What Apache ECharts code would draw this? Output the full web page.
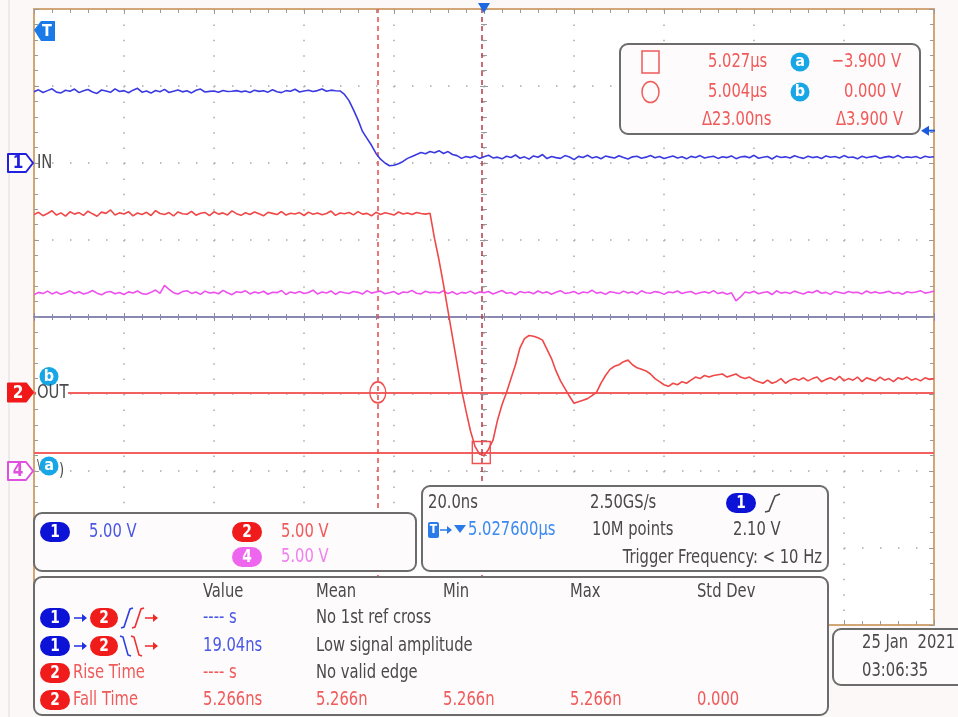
<!DOCTYPE html>
<html>
<head>
<meta charset="utf-8">
<script src="https://cdn.jsdelivr.net/npm/echarts@6/dist/echarts.min.js"></script>
<style>
  html, body { margin: 0; padding: 0; background: #fcf8f8; }
  #chart { width: 958px; height: 717px; }
</style>
</head>
<body>
<div id="chart"></div>
<script>
// scope capture, 20 ns/div, 10 div wide -> samples read every 1 ns around the trigger
const T_START = -100, T_STEP = 1;

// CH1 "IN" (V)
const ch1In = [
  4.62,4.75,4.58,4.70,4.82,4.60,4.55,4.72,4.66,4.80,
  4.57,4.69,4.77,4.61,4.52,4.74,4.68,4.59,4.81,4.64,
  4.70,4.56,4.73,4.85,4.60,4.67,4.54,4.71,4.63,4.78,
  4.58,4.66,4.74,4.62,4.69,4.55,4.72,4.80,4.61,4.65,
  4.68,4.59,4.71,4.64,4.66,4.70,4.62,4.67,4.58,4.73,
  4.65,4.69,4.60,4.76,4.63,4.57,4.70,4.66,4.79,4.61,
  4.68,4.72,4.64,4.70,4.81,4.66,4.73,4.69,
  4.68,4.45,4.05,3.45,2.80,2.05,1.60,1.15,0.62,0.25,
  0.00,-0.18,-0.15,-0.05,0.10,0.30,0.42,0.55,0.68,0.60,
  0.75,0.66,0.80,0.62,0.74,0.55,0.48,0.30,0.42,
  0.35,0.45,0.30,0.41,0.50,0.33,0.38,0.27,0.44,0.36,
  0.52,0.31,0.40,0.25,0.46,0.37,0.55,0.29,0.42,0.35,
  0.30,0.48,0.39,0.22,0.43,0.36,0.50,0.33,0.41,0.28,
  0.45,0.38,0.32,0.47,0.35,0.26,0.40,0.44,0.31,0.38,
  0.49,0.34,0.42,0.29,0.37,0.45,0.33,0.40,0.27,0.43,
  0.36,0.48,0.32,0.39,0.44,0.30,0.41,0.35,0.46,0.28,
  0.39,0.43,0.34,0.50,0.31,0.37,0.42,0.26,0.45,0.36,
  0.40,0.33,0.47,0.38,0.30,0.44,0.35,0.41,0.29,0.46,
  0.37,0.42,0.32,0.48,0.36,0.39,0.27,0.44,0.34,0.40,
  0.45,0.31,0.38,0.43,0.35,0.49,0.33,0.40,0.36,0.42,
  0.30,0.44,0.37,0.41
];

// CH2 "OUT" (V)
const ch2Out = [
  11.55,11.70,11.48,11.62,11.80,11.52,11.66,11.45,11.73,11.58,
  11.68,11.50,11.77,11.60,11.44,11.71,11.63,11.85,11.52,11.66,
  11.59,11.74,11.47,11.65,11.56,11.70,11.49,11.81,11.62,11.55,
  11.68,11.46,11.72,11.60,11.57,11.76,11.51,11.64,11.69,11.48,
  11.73,11.58,11.66,11.53,11.79,11.61,11.50,11.67,11.56,11.72,
  11.60,11.47,11.70,11.63,11.55,11.75,11.52,11.64,11.59,11.68,
  11.49,11.71,11.57,11.66,11.54,11.62,11.78,11.50,11.65,11.60,
  11.69,11.53,11.74,11.58,11.63,11.47,11.70,11.56,11.67,11.61,
  11.52,11.72,11.59,11.65,11.55,11.69,11.62,11.58,11.64,
  10.0,8.6,7.0,5.3,3.6,1.9,0.2,-1.2,-2.5,-3.5,-4.0,
  -4.1,-3.7,-3.1,-1.8,-0.8,0.0,0.9,1.8,2.9,3.5,
  3.7,3.65,3.55,3.4,2.8,2.2,1.4,0.75,0.25,-0.25,
  -0.7,-0.6,-0.5,-0.4,-0.2,0.0,0.6,1.1,1.5,1.7,
  1.8,2.0,2.1,1.8,1.6,1.5,1.4,1.2,0.9,0.7,
  0.5,0.4,0.6,0.5,0.7,0.6,0.8,1.0,0.9,1.1,
  1.0,1.1,1.15,1.2,1.0,1.1,1.2,1.0,0.9,1.0,
  0.8,0.7,0.6,0.8,0.6,0.7,0.9,0.6,0.8,0.9,
  0.8,0.95,0.75,0.9,1.0,0.7,0.85,0.95,0.8,1.05,
  0.75,0.9,0.8,1.0,0.7,0.95,0.85,0.75,1.0,0.8,
  0.9,0.7,0.95,0.85,1.0,0.8,0.9,0.75,0.95,0.85,
  0.9
];

// CH4 (V)
const ch4 = [
  11.45,11.60,11.52,11.68,11.50,11.62,11.47,11.58,11.70,11.53,
  11.64,11.49,11.57,11.72,11.55,11.44,11.61,11.66,11.51,11.59,
  11.46,11.63,11.56,11.69,11.52,11.48,11.60,11.75,11.54,12.05,
  11.80,11.58,11.49,11.65,11.71,11.53,11.62,11.47,11.68,11.56,
  11.60,11.51,11.73,11.57,11.45,11.64,11.59,11.70,11.50,11.62,
  11.55,11.67,11.48,11.61,11.58,11.72,11.46,11.63,11.54,11.66,
  11.52,11.59,11.74,11.50,11.62,11.56,11.69,11.47,11.64,11.58,
  11.53,11.66,11.60,11.49,11.71,11.55,11.63,11.68,11.51,11.57,
  11.65,11.48,11.62,11.59,11.73,11.54,11.50,11.67,11.58,11.61,
  11.56,11.70,11.52,11.64,11.47,11.60,11.55,11.68,11.51,11.63,
  11.58,11.66,11.49,11.61,11.72,11.54,11.59,11.45,11.65,11.57,
  11.62,11.51,11.69,11.56,11.63,11.48,11.60,11.71,11.53,11.58,
  11.66,11.50,11.62,11.57,11.74,11.55,11.61,11.47,11.64,11.59,
  11.52,11.68,11.56,11.63,11.49,11.70,11.58,11.54,11.65,11.60,
  11.47,11.62,11.57,11.69,11.53,11.61,11.66,11.50,11.58,11.64,
  11.55,11.71,11.52,11.60,11.48,11.57,11.05,11.30,11.62,11.56,
  11.67,11.51,11.59,11.64,11.46,11.70,11.55,11.61,11.53,11.68,
  11.58,11.49,11.63,11.57,11.72,11.54,11.60,11.47,11.66,11.59,
  11.52,11.65,11.58,11.61,11.50,11.69,11.56,11.63,11.54,11.60,
  11.67,11.53,11.59,11.48,11.64,11.57,11.62,11.71,11.55,11.61,
  11.68
];

const V_PER_DIV = 5;
const zeroDiv = { ch1: 2, ch2: -0.98, ch4: -2 }; // channel ground position, divisions from centre
const cursorT = { square: -0.6, circle: -23.6 };   // ns from trigger (5.0276 us)
const cursorV = { a: -3.9, b: 0 };                 // V on CH2
const trigLevel = 2.10;                            // V on CH1

const FAM = '"DejaVu Sans Condensed","DejaVu Sans",sans-serif';
const SX = 0.82; // scope font is narrow and tall
const BLUE = '#3a3ae0', RED = '#f04848', MAG = '#ee50ee';
const BORDER = '#d3a676', DOT = '#a9a9a9', TXT = '#4a4a4a';

const chart = echarts.init(document.getElementById('chart'));
const toPts = arr => arr.map((v, i) => [T_START + i * T_STEP, v]);
const chAxis = z => ({ type: 'value', show: false, min: (-4 - z) * V_PER_DIV, max: (4 - z) * V_PER_DIV });
const noLbl = { show: false };
const tick = { inside: true, length: 5, lineStyle: { color: '#9a9a9a' } };
const minor = { show: true, splitNumber: 5, length: 4, lineStyle: { color: '#9a9a9a' } };

chart.setOption({
  animation: false,
  grid: { left: 34, top: 9, width: 900, height: 616, show: true, backgroundColor: '#ffffff', borderWidth: 0 },
  xAxis: [
    { type: 'value', min: -100, max: 100, interval: 20, position: 'bottom', axisLabel: noLbl,
      axisLine: { onZero: false, lineStyle: { color: BORDER, width: 2 } }, axisTick: tick, minorTick: minor,
      splitLine: { show: true, lineStyle: { color: DOT, width: 1.5, type: [1.5, 13.9] } } },
    { type: 'value', min: -100, max: 100, interval: 20, position: 'top', axisLabel: noLbl,
      axisLine: { onZero: false, lineStyle: { color: BORDER, width: 2 } }, axisTick: tick, minorTick: minor, splitLine: noLbl },
    { type: 'value', min: -100, max: 100, interval: 20, position: 'bottom', axisLabel: noLbl,
      axisLine: { onZero: true, onZeroAxisIndex: 0, lineStyle: { color: '#8888b0', width: 2 } },
      axisTick: { inside: true, length: 4, lineStyle: { color: '#8888b0' } },
      minorTick: { show: true, splitNumber: 5, length: 3, lineStyle: { color: '#8888b0' } }, splitLine: noLbl },
    { type: 'value', min: -100, max: 100, interval: 20, position: 'bottom', axisLabel: noLbl,
      axisLine: { onZero: true, onZeroAxisIndex: 0, lineStyle: { color: '#8888b0', width: 2 } },
      axisTick: { inside: false, length: 4, lineStyle: { color: '#8888b0' } },
      minorTick: { show: true, splitNumber: 5, length: 3, lineStyle: { color: '#8888b0' } }, splitLine: noLbl }
  ],
  yAxis: [
    { type: 'value', min: -4, max: 4, interval: 1, position: 'left', axisLabel: noLbl,
      axisLine: { onZero: false, lineStyle: { color: BORDER, width: 2 } }, axisTick: tick, minorTick: minor,
      splitLine: { show: true, lineStyle: { color: DOT, width: 1.5, type: [1.5, 16.5] } } },
    { type: 'value', min: -4, max: 4, interval: 1, position: 'right', axisLabel: noLbl,
      axisLine: { onZero: false, lineStyle: { color: BORDER, width: 2 } }, axisTick: tick, minorTick: minor, splitLine: noLbl },
    chAxis(zeroDiv.ch1),
    chAxis(zeroDiv.ch2),
    chAxis(zeroDiv.ch4),
    { type: 'value', min: -4, max: 4, interval: 1, position: 'left', axisLabel: noLbl,
      axisLine: { onZero: true, onZeroAxisIndex: 0, lineStyle: { opacity: 0 } },
      axisTick: { inside: true, length: 4, lineStyle: { color: '#9a9a9a' } },
      minorTick: { show: true, splitNumber: 5, length: 3, lineStyle: { color: '#9a9a9a' } }, splitLine: noLbl },
    { type: 'value', min: -4, max: 4, interval: 1, position: 'left', axisLabel: noLbl,
      axisLine: { onZero: true, onZeroAxisIndex: 0, lineStyle: { opacity: 0 } },
      axisTick: { inside: false, length: 4, lineStyle: { color: '#9a9a9a' } },
      minorTick: { show: true, splitNumber: 5, length: 3, lineStyle: { color: '#9a9a9a' } }, splitLine: noLbl }
  ],
  series: [
    { name: 'IN', type: 'line', yAxisIndex: 2, data: toPts(ch1In), showSymbol: false, silent: true,
      lineStyle: { color: BLUE, width: 1.6 }, z: 5 },
    { name: 'CH4', type: 'line', yAxisIndex: 4, data: toPts(ch4), showSymbol: false, silent: true,
      lineStyle: { color: MAG, width: 1.6 }, z: 5 },
    { name: 'OUT', type: 'line', yAxisIndex: 3, data: toPts(ch2Out), showSymbol: false, silent: true,
      lineStyle: { color: RED, width: 1.6 }, z: 6,
      markLine: {
        silent: true, symbol: 'none', label: { show: false },
        data: [
          { yAxis: cursorV.b, lineStyle: { color: '#f26060', width: 2, type: 'solid' } },
          { yAxis: cursorV.a, lineStyle: { color: '#f26060', width: 2, type: 'solid' } },
          { xAxis: cursorT.circle, lineStyle: { color: '#e84848', width: 1.5, type: [5, 4] } },
          { xAxis: cursorT.square, lineStyle: { color: '#b83848', width: 1.5, type: [5, 4] } }
        ]
      },
      markPoint: {
        silent: true, label: { show: false },
        data: [
          { coord: [cursorT.circle, cursorV.b], symbol: 'circle', symbolSize: [16, 21],
            itemStyle: { color: 'rgba(0,0,0,0)', borderColor: '#f05050', borderWidth: 1.5 } },
          { coord: [cursorT.square, cursorV.a], symbol: 'rect', symbolSize: [18, 22],
            itemStyle: { color: 'rgba(0,0,0,0)', borderColor: '#f05050', borderWidth: 1.5 } }
        ]
      }
    }
  ]
});

// ---------- screen annotations ----------
const txt = (x, y, s, fill, o = {}) => ({
  type: 'text', x, y, z: 110, scaleX: SX,
  style: { text: s, fill, font: (o.size || 20) + 'px ' + FAM, textAlign: o.align || 'left', align: o.align || 'left',
           textVerticalAlign: 'middle', verticalAlign: 'middle' }
});
const pill = (cx, cy, label, fill, w = 30) => ([
  { type: 'rect', z: 105, shape: { x: cx - w / 2, y: cy - 10, width: w, height: 20, r: 10 }, style: { fill } },
  { type: 'text', x: cx, y: cy + 1, z: 110, scaleX: 0.9, style: { text: label, fill: '#ffffff', font: 'bold 17px ' + FAM,
    textAlign: 'center', align: 'center', textVerticalAlign: 'middle', verticalAlign: 'middle' } }
]);
const box = (x, y, w, h) => ({ type: 'rect', z: 100, shape: { x, y, width: w, height: h, r: 8 },
  style: { fill: '#fdfbfb', stroke: '#6c6c6c', lineWidth: 2 } });
const cyanTag = (cx, cy, l) => ([
  { type: 'circle', z: 105, shape: { cx, cy, r: 9.5 }, style: { fill: '#17a6e6' } },
  { type: 'text', x: cx, y: cy, z: 110, style: { text: l, fill: '#ffffff', font: 'bold 16px ' + FAM,
    textAlign: 'center', align: 'center', textVerticalAlign: 'middle', verticalAlign: 'middle' } }
]);
const chTag = (y, label, stroke, fill, tcol) => ([
  { type: 'polygon', z: 105, shape: { points: [[8, y - 9], [26, y - 9], [33, y], [26, y + 9], [8, y + 9]] },
    style: { fill, stroke, lineWidth: 2, lineJoin: 'round' } },
  { type: 'text', x: 18, y: y + 1, z: 110, style: { text: label, fill: tcol, font: 'bold 17px ' + FAM,
    textAlign: 'center', align: 'center', textVerticalAlign: 'middle', verticalAlign: 'middle' } }
]);
const arrow = (x0, x1, y, color) => ([
  { type: 'line', z: 110, shape: { x1: x0, y1: y, x2: x1 - 4, y2: y }, style: { stroke: color, lineWidth: 1.5 } },
  { type: 'polygon', z: 110, shape: { points: [[x1 - 5, y - 4], [x1, y], [x1 - 5, y + 4]] }, style: { fill: color } }
]);
const stroke = (pts, color) => ({ type: 'polyline', z: 110, shape: { points: pts }, style: { stroke: color, lineWidth: 1.6, fill: null } });

const yIn = chart.convertToPixel({ yAxisIndex: 2 }, 0);
const yOut = chart.convertToPixel({ yAxisIndex: 3 }, 0);
const y4 = chart.convertToPixel({ yAxisIndex: 4 }, 0);
const yTrig = chart.convertToPixel({ yAxisIndex: 2 }, trigLevel);
const xTrig = chart.convertToPixel({ xAxisIndex: 0 }, 0);

const g = [];
g.push({ type: 'line', z: 1, shape: { x1: 9, y1: 0, x2: 9, y2: 717 }, style: { stroke: '#e2dcdc', lineWidth: 1 } });

// channel ground markers and labels
g.push(...chTag(yIn, '1', '#2020e0', '#ffffff', '#2020e0'));
g.push(txt(37, yIn, 'IN', TXT));
g.push({ type: 'rect', z: 104, shape: { x: 36, y: yOut - 10, width: 32, height: 20 }, style: { fill: '#ffffff' } });
g.push(...chTag(yOut, '2', '#f01818', '#f01818', '#ffffff'));
g.push(txt(37, yOut, 'OUT', TXT));
g.push(...cyanTag(49, yOut - 16, 'b'));
g.push(...chTag(y4, '4', '#e050e0', '#ffffff', '#e050e0'));
g.push(txt(37, y4 - 6, '\\', TXT, { size: 14 }));
g.push(txt(59, y4, ')', TXT, { size: 18 }));
g.push(...cyanTag(49, y4 - 5, 'a'));

// trigger markers
g.push({ type: 'polygon', z: 110, shape: { points: [[34, 30], [41, 21], [55, 21], [55, 41], [41, 41]] },
  style: { fill: '#1c7ae8', lineJoin: 'round' } });
g.push({ type: 'text', x: 47, y: 32, z: 111, style: { text: 'T', fill: '#ffffff', font: 'bold 16px ' + FAM,
  textAlign: 'center', align: 'center', textVerticalAlign: 'middle', verticalAlign: 'middle' } });
g.push({ type: 'polygon', z: 110, shape: { points: [[xTrig - 6, 3], [xTrig + 6, 3], [xTrig, 13]] }, style: { fill: '#1c6ae0' } });
g.push({ type: 'polygon', z: 110, shape: { points: [[921, yTrig], [929, yTrig - 5], [929, yTrig + 5]] }, style: { fill: '#1c5ae0' } });
g.push({ type: 'line', z: 110, shape: { x1: 928, y1: yTrig, x2: 935, y2: yTrig }, style: { stroke: '#1c5ae0', lineWidth: 2 } });

// cursor readout
g.push(box(620, 44, 300, 90));
const CR = '#f05a5a';
g.push({ type: 'rect', z: 105, shape: { x: 642, y: 51, width: 17, height: 22 }, style: { fill: null, stroke: CR, lineWidth: 1.5 } });
g.push({ type: 'ellipse', z: 105, shape: { cx: 650.5, cy: 92, rx: 8.5, ry: 10.5 }, style: { fill: null, stroke: CR, lineWidth: 1.5 } });
g.push(txt(708, 62, '5.027µs', CR));
g.push(txt(708, 92, '5.004µs', CR));
g.push(txt(702, 120, 'Δ23.00ns', CR));
g.push(...cyanTag(800, 62, 'a'));
g.push(...cyanTag(800, 92, 'b'));
g.push(txt(901, 62, '−3.900 V', CR, { align: 'right' }));
g.push(txt(901, 92, '0.000 V', CR, { align: 'right' }));
g.push(txt(903, 120, 'Δ3.900 V', CR, { align: 'right' }));

// vertical scale box
g.push(box(34, 513, 382, 58));
g.push(...pill(55, 532, '1', '#0c12d6'));
g.push(txt(89, 532, '5.00 V', '#4a58e6'));
g.push(...pill(247, 532, '2', '#f01c1c'));
g.push(txt(281, 532, '5.00 V', '#f05a5a'));
g.push(...pill(247, 557, '4', '#ee66ee'));
g.push(txt(281, 557, '5.00 V', '#f080f0'));

// timebase / trigger box
g.push(box(422, 486, 406, 85));
g.push(txt(428, 503, '20.0ns', TXT));
g.push(txt(590, 503, '2.50GS/s', TXT));
g.push(...pill(741, 503, '1', '#0c12d6'));
g.push(stroke([[765, 512], [769, 511], [775, 496], [780, 494]], TXT));
g.push({ type: 'rect', z: 105, shape: { x: 428, y: 522, width: 11, height: 16, r: 2 }, style: { fill: '#2a7ae8' } });
g.push({ type: 'text', x: 433.5, y: 530, z: 111, style: { text: 'T', fill: '#ffffff', font: 'bold 12px ' + FAM,
  textAlign: 'center', align: 'center', textVerticalAlign: 'middle', verticalAlign: 'middle' } });
g.push(...arrow(440, 452, 530, '#2a7ae8'));
g.push({ type: 'polygon', z: 110, shape: { points: [[454, 525], [466, 525], [460, 533]] }, style: { fill: '#2a7ae8' } });
g.push(txt(468, 530, '5.027600µs', '#3a8af0'));
g.push(txt(592, 530, '10M points', TXT));
g.push(txt(733, 530, '2.10 V', TXT));
g.push(txt(822, 558, 'Trigger Frequency: < 10 Hz', TXT, { align: 'right' }));

// measurement table
g.push(box(34, 577, 794, 138));
const colX = [203, 316, 443, 570, 697];
['Value', 'Mean', 'Min', 'Max', 'Std Dev'].forEach((h, i) => g.push(txt(colX[i], 592, h, TXT)));
const rowY = [618, 646, 673, 700];
const BT = '#4a58e6', RT = '#f05a5a';
[0, 1].forEach(r => {
  const y = rowY[r];
  g.push(...pill(55, y, '1', '#0c12d6'));
  g.push(...arrow(74, 87, y, '#2030e0'));
  g.push(...pill(104, y, '2', '#f01c1c', 28));
  g.push(...arrow(145, 158, y, '#f02828'));
});
g.push(stroke([[121, 628], [124, 627], [130, 609], [133, 608]], '#3040e0'));
g.push(stroke([[132, 628], [135, 627], [141, 609], [144, 608]], '#f03030'));
g.push(stroke([[120, 636], [123, 637], [128, 655], [131, 656]], '#3040e0'));
g.push(stroke([[131, 636], [134, 637], [139, 655], [142, 656]], '#f03030'));
g.push(...pill(55, rowY[2], '2', '#f01c1c'));
g.push(...pill(55, rowY[3], '2', '#f01c1c'));
g.push(txt(73, rowY[2], 'Rise Time', RT));
g.push(txt(73, rowY[3], 'Fall Time', RT));
g.push(txt(203, rowY[0], '---- s', BT));
g.push(txt(203, rowY[1], '19.04ns', BT));
g.push(txt(203, rowY[2], '---- s', RT));
g.push(txt(203, rowY[3], '5.266ns', RT));
g.push(txt(316, rowY[0], 'No 1st ref cross', TXT));
g.push(txt(316, rowY[1], 'Low signal amplitude', TXT));
g.push(txt(316, rowY[2], 'No valid edge', TXT));
g.push(txt(316, rowY[3], '5.266n', RT));
g.push(txt(443, rowY[3], '5.266n', RT));
g.push(txt(570, rowY[3], '5.266n', RT));
g.push(txt(697, rowY[3], '0.000', RT));

// date box
g.push(box(833, 629, 140, 56));
g.push(txt(862, 643, '25 Jan  2021', TXT));
g.push(txt(862, 671, '03:06:35', TXT));

chart.setOption({ graphic: g });
</script>
</body>
</html>
